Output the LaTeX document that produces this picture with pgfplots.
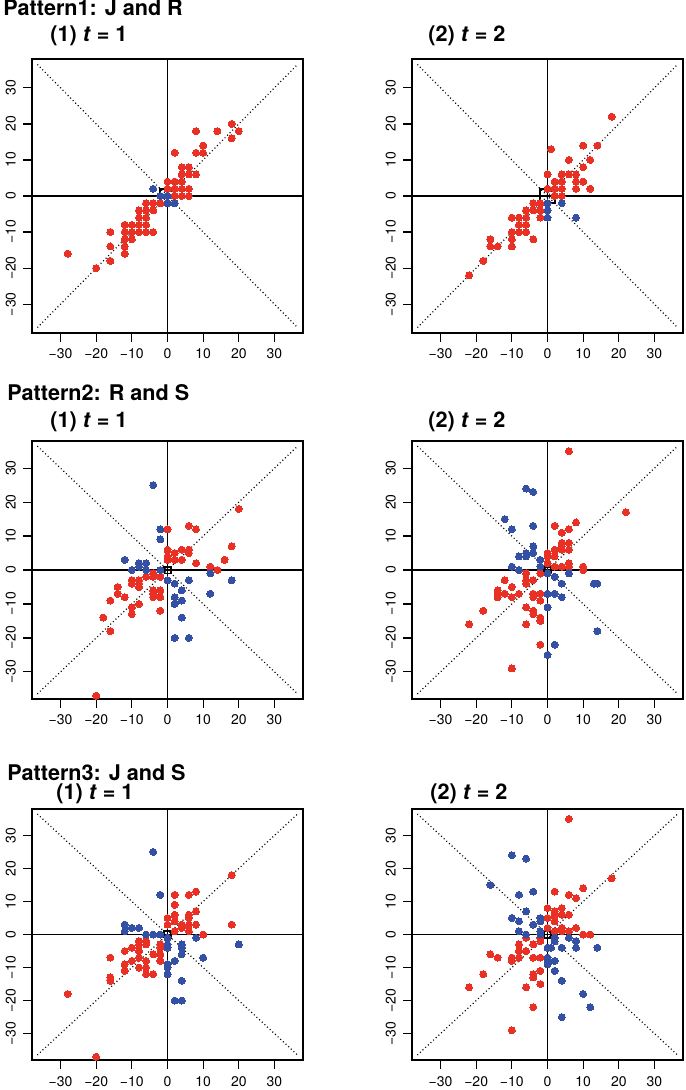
\documentclass[border=0pt]{standalone}
\usepackage{fontspec}
\setmainfont{TeX Gyre Heros}
\usepackage{pgfplots}
\pgfplotsset{compat=1.18}
\definecolor{myred}{RGB}{232,48,36}
\definecolor{myblue}{RGB}{52,80,164}
\pgfplotsset{
  panel/.style={
    scale only axis, width=135.5pt, anchor=south west,
    xmin=-38, xmax=38, ymin=-38, ymax=38,
    xtick={-30,-20,-10,0,10,20,30}, ytick={-30,-20,-10,0,10,20,30},
    xticklabels={−30,−20,−10,0,10,20,30},
    yticklabels={−30,−20,−10,0,10,20,30},
    xtick pos=bottom, ytick pos=left,
    tick align=outside, major tick length=4.5pt,
    tick style={black, line width=0.6pt},
    axis line style={line width=0.65pt},
    ticklabel style={font=\fontsize{7}{8}\selectfont},
    yticklabel style={rotate=90, anchor=south},
    clip=false,
  },
  rp/.style={only marks, color=myred, mark=*, mark size=1.75pt, mark options={draw=myred, fill=myred, line width=0pt}},
  bp/.style={only marks, color=myblue, mark=*, mark size=1.75pt, mark options={draw=myblue, fill=myblue, line width=0pt}},
  zl/.style={black, line width=0.8pt},
  dg/.style={black, line width=0.6pt, dash pattern=on 0.5pt off 1.3pt},
  sq/.style={black, line width=0.9pt},
}
\newcommand{\guides}[1]{%
  \addplot[zl] coordinates {(-38,0)(38,0)};
  \addplot[zl] coordinates {(0,-38)(0,38)};
  \addplot[dg] coordinates {(-36.5,-36.5)(36.5,36.5)};
  \addplot[dg] coordinates {(-36.5,36.5)(36.5,-36.5)};
  \addplot[sq] coordinates {(-#1,-#1)(#1,-#1)(#1,#1)(-#1,#1)(-#1,-#1)};
}
\begin{document}
\begin{tikzpicture}
\useasboundingbox (0,0) rectangle (342.5pt,-545pt);
\tikzset{tt/.style={anchor=base west, inner sep=0pt, font=\fontsize{10.8}{12}\selectfont\bfseries}}
\node[tt] at (1.5pt,-8pt) {Pattern1: J and R};
\node[tt] at (25pt,-20.8pt) {(1) \textit{t} = 1};
\node[tt] at (214pt,-20.8pt) {(2) \textit{t} = 2};
\node[tt] at (3.5pt,-200.3pt) {Pattern2: R and S};
\node[tt] at (25pt,-213.8pt) {(1) \textit{t} = 1};
\node[tt] at (214pt,-213.8pt) {(2) \textit{t} = 2};
\node[tt] at (3.5pt,-390pt) {Pattern3: J and S};
\node[tt] at (28pt,-399.8pt) {(1) \textit{t} = 1};
\node[tt] at (215pt,-399.8pt) {(2) \textit{t} = 2};

% Panel 1
\begin{axis}[panel, at={(16pt,-166.5pt)}, height=137pt]
\addplot[rp] coordinates {(18,20)(8,18)(14,18)(20,18)(18,16)(2,12)(10,14)(8,12)(10,12)(4,8)(6,8)(4,6)(6,6)(8,6)(0,4)(2,4)(4,4)(2,2)(4,2)(6,2)(0,2)(2,0)(4,0)(6,0)(-6,-2)(-4,-2)(-2,-2)(-8,-4)(-6,-4)(-4,-4)(-8,-6)(-6,-6)(-12,-8)(-10,-8)(-8,-8)(-6,-8)(-16,-10)(-12,-10)(-10,-10)(-8,-10)(-6,-10)(-4,-10)(-12,-12)(-10,-12)(-16,-14)(-12,-14)(-12,-16)(-28,-16)(-16,-18)(-20,-20)};
\addplot[bp] coordinates {(-4,2)(-2,0)(0,-2)(2,-2)(0,0)};
\guides{2}
\end{axis}
% Panel 2
\begin{axis}[panel, at={(206pt,-166.5pt)}, height=137pt]
\addplot[rp] coordinates {(18,22)(10,14)(14,14)(1,13)(6,10)(12,10)(10,8)(0,6)(4,6)(6,6)(8,6)(2,4)(4,4)(8,4)(10,4)(0,2)(2,2)(4,2)(8,2)(12,2)(2,0)(4,0)(-4,-2)(-2,-2)(-6,-4)(-4,-4)(-2,-4)(-10,-6)(-8,-6)(-6,-6)(-2,-6)(-8,-8)(-6,-8)(-10,-10)(-8,-10)(-6,-10)(-16,-12)(-10,-12)(-4,-12)(-16,-14)(-14,-14)(-10,-14)(-18,-18)(-22,-22)};
\addplot[bp] coordinates {(0,-2)(4,-2)(0,-4)(0,-6)(8,-6)};
\guides{2}
\end{axis}
% Panel 3
\begin{axis}[panel, at={(16pt,-349.5pt)}, height=129pt]
\addplot[rp] coordinates {(20,18)(0,12)(6,13)(8,12)(18,7)(0,6)(2,5)(4,6)(6,6)(0,4)(0,3)(2,3)(4,3)(6,5)(8,2)(16,3)(12,1)(14,0)(-6,-2)(-4,-1)(-4,-2)(-2,-2)(-10,-3)(-10,-4)(-8,-3)(-8,-4)(-8,-5)(-14,-5)(-14,-7)(-12,-8)(-16,-9)(-4,-6)(-4,-7)(-4,-8)(-2,-6)(-2,-8)(-8,-10)(-10,-11)(-10,-13)(-18,-14)(-16,-18)(-2,-12)(-20,-37)};
\addplot[bp] coordinates {(-4,25)(-2,12)(-2,9)(-12,3)(-8,2)(-6,2)(-8,1)(-10,0)(-6,0)(-2,0)(0,-3)(6,-3)(18,-3)(2,-4)(12,-1)(4,-6)(12,-7)(2,-8)(4,-9)(2,-10)(4,-14)(2,-20)(6,-20)};
\guides{1}
\end{axis}
% Panel 4
\begin{axis}[panel, at={(206pt,-349.5pt)}, height=129pt]
\addplot[rp] coordinates {(6,35)(22,17)(8,14)(2,13)(6,12)(4,11)(4,8)(6,8)(4,7)(4,6)(2,6)(6,6)(0,5)(0,4)(2,4)(0,2)(6,2)(4,1)(6,1)(10,1)(10,0)(2,1)(-6,-1)(-2,-1)(-12,-3)(-6,-3)(-6,-4)(-4,-3)(-10,-5)(-14,-6)(-14,-7)(-14,-8)(-12,-7)(-8,-7)(-10,-8)(-4,-7)(-4,-8)(-2,-7)(-2,-9)(-18,-12)(-6,-11)(-4,-12)(-4,-13)(-2,-14)(-2,-15)(-22,-16)(-6,-16)(-2,-22)(-10,-29)};
\addplot[bp] coordinates {(-6,24)(-4,23)(-12,15)(-10,12)(-4,13)(-4,7)(-4,5)(-6,5)(-6,4)(-8,4)(-2,3)(-10,1)(-8,0)(-2,1)(0,-1)(2,-2)(6,-1)(4,-4)(13,-4)(14,-4)(0,-7)(2,-7)(4,-8)(0,-11)(14,-18)(2,-22)(0,-25)};
\guides{1}
\end{axis}
% Panel 5
\begin{axis}[panel, at={(16pt,-530pt)}, height=125.5pt]
\addplot[rp] coordinates {(18,18)(2,12)(6,12)(8,13)(2,9)(2,6)(6,6)(6,5)(8,7)(0,5)(2,4)(0,3)(4,3)(4,2)(6,3)(8,3)(2,1)(6,1)(18,3)(10,0)(-8,-2)(-8,-3)(-6,-2)(-6,-3)(-10,-4)(-2,-3)(-2,-4)(-12,-5)(-8,-5)(-4,-6)(-2,-6)(-16,-7)(-8,-7)(-10,-8)(-6,-8)(-2,-8)(-12,-9)(-8,-10)(-6,-10)(-12,-11)(-6,-12)(-4,-12)(-16,-13)(-16,-14)(-28,-18)(-20,-37)};
\addplot[bp] coordinates {(-4,25)(-2,12)(-12,3)(-12,1)(-10,2)(-8,2)(-6,0)(-4,0)(-2,0)(0,-1)(0,-3)(0,-4)(8,-1)(4,-3)(4,-4)(4,-6)(20,-3)(10,-7)(2,-8)(0,-9)(0,-10)(0,-12)(4,-14)(2,-20)(4,-20)};
\guides{1}
\end{axis}
% Panel 6
\begin{axis}[panel, at={(206pt,-530pt)}, height=125.5pt]
\addplot[rp] coordinates {(6,35)(18,17)(10,14)(2,13)(6,12)(8,11)(0,8)(4,8)(2,7)(2,6)(4,6)(6,6)(0,5)(2,4)(0,2)(4,2)(4,1)(8,2)(2,1)(6,1)(10,0)(12,0)(-6,-1)(-2,-1)(-2,-2)(-8,-3)(-4,-3)(-8,-5)(-6,-5)(-16,-6)(-14,-7)(-10,-7)(-10,-8)(-8,-7)(-4,-7)(-2,-7)(-18,-12)(-2,-11)(-4,-12)(-4,-13)(-22,-16)(-6,-16)(-2,-15)(-4,-22)(-10,-29)};
\addplot[bp] coordinates {(-10,24)(-6,23)(-16,15)(-8,12)(-4,13)(-6,7)(-10,5)(-8,4)(-2,5)(-2,4)(-4,3)(-8,1)(-6,0)(-2,1)(-2,0)(2,-1)(2,-2)(6,-1)(8,-2)(8,-4)(14,-4)(0,-4)(1,-4)(4,-4)(0,-7)(0,-8)(0,-9)(2,-8)(2,-11)(4,-14)(10,-18)(12,-22)(4,-25)};
\guides{1}
\end{axis}
\end{tikzpicture}
\end{document}
